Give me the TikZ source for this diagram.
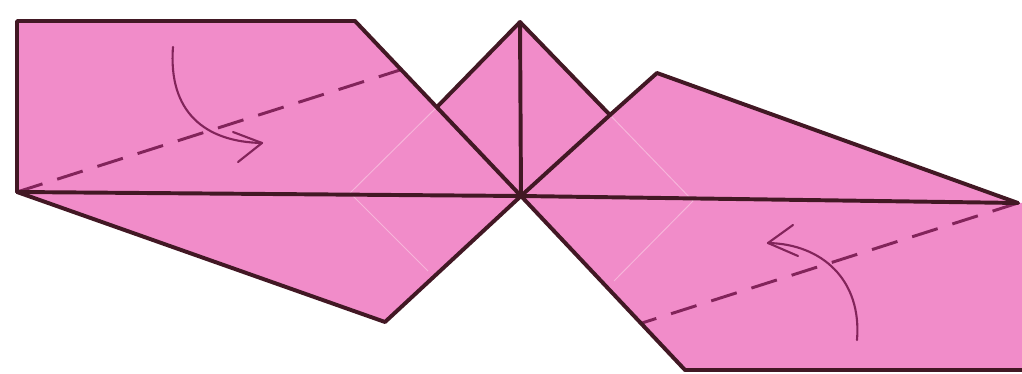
\documentclass[tikz,border=0pt]{standalone}
\begin{document}
\begin{tikzpicture}[x=0.025cm, y=-0.025cm,
  paper/.style={fill={rgb,255:red,241;green,140;blue,201}},
  edge/.style={draw={rgb,255:red,66;green,24;blue,36}, line width=2.8pt, line join=round, line cap=round},
  valley/.style={draw={rgb,255:red,130;green,36;blue,90}, line width=2.1pt, dash pattern=on 19pt off 11pt},
  crease/.style={draw={rgb,255:red,247;green,180;blue,218}, line width=0.7pt},
  motion/.style={draw={rgb,255:red,130;green,36;blue,90}, line width=1.5pt, line cap=round, line join=round}]
\useasboundingbox (0,0) rectangle (1022,374);

% key points of the folded paper
\coordinate (C)  at (521,196);
\coordinate (LT) at (17,21);
\coordinate (LB) at (17,192);
\coordinate (TR) at (355,21);
\coordinate (K1) at (437,107);
\coordinate (AP) at (520,22);
\coordinate (K2) at (610,115);
\coordinate (RT) at (657,73);
\coordinate (RP) at (1018,203);
\coordinate (LL) at (385,322);
\coordinate (BL) at (685,370);
\coordinate (BR) at (1022,370);
\coordinate (ER) at (1022,203);

% paper surface
\path[paper] (LT) -- (TR) -- (K1) -- (AP) -- (K2) -- (RT) -- (RP) -- (ER) -- (BR)
  -- (BL) -- (C) -- (LL) -- (LB) -- cycle;

% faint creases of the square base
\coordinate (Q1) at (350,193);
\coordinate (Q2) at (428,271);
\coordinate (Q3) at (693,201);
\coordinate (Q4) at (614,281);
\draw[crease] (K1) -- (Q1) -- (Q2);
\draw[crease] (K2) -- (Q3) -- (Q4);

% valley fold lines
\coordinate (V1) at (400,70);
\coordinate (V2) at (642,323);
\draw[valley] (LB) -- (V1);
\draw[valley] (RP) -- (V2);

% outlines
\draw[edge] (LB) -- (LT) -- (TR) -- (C);
\draw[edge] (LB) -- (C) -- (RP);
\draw[edge] (LB) -- (LL) -- (C);
\draw[edge] (K1) -- (AP) -- (C);
\draw[edge] (AP) -- (K2) -- (C);
\draw[edge] (K2) -- (RT) -- (RP);
\draw[edge] (C) -- (BL) -- (BR);

% fold arrows
\coordinate (A1s) at (173,47);
\coordinate (A1e) at (262,143);
\coordinate (A1u) at (233,132);
\coordinate (A1d) at (238,162);
\draw[motion] (A1s) .. controls (168,112) and (205,142) .. (A1e);
\draw[motion] (A1u) -- (A1e) -- (A1d);

\coordinate (A2s) at (857,340);
\coordinate (A2e) at (768,243);
\coordinate (A2u) at (793,225);
\coordinate (A2d) at (798,256);
\draw[motion] (A2s) .. controls (862,280) and (822,244) .. (A2e);
\draw[motion] (A2u) -- (A2e) -- (A2d);
\end{tikzpicture}
\end{document}
